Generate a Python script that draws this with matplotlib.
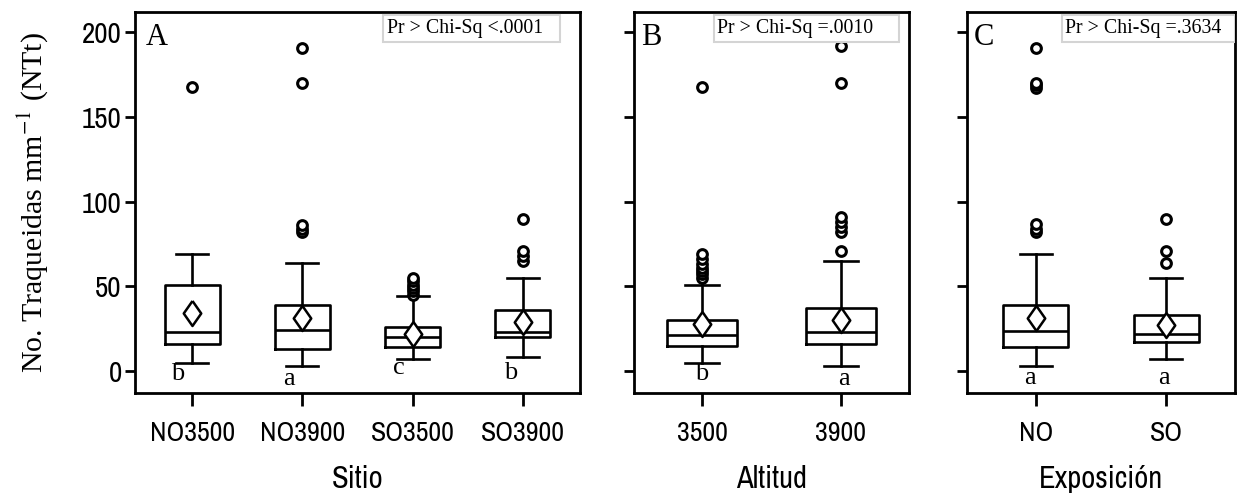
import matplotlib
matplotlib.use("Agg")
import matplotlib.pyplot as plt
from matplotlib.patches import Rectangle

plt.rcParams["mathtext.fontset"] = "stix"

# Panel A: Sitio
sitio = ["NO3500", "NO3900", "SO3500", "SO3900"]
sitio_q1 = [16, 13, 14, 20]
sitio_med = [23, 24, 20, 23]
sitio_q3 = [51, 39, 26, 36]
sitio_lo = [5, 3, 7, 8]
sitio_hi = [69, 64, 44, 55]
sitio_mean = [34, 31, 22, 29]
sitio_out = [[168], [82, 84, 86, 170, 191], [45, 47, 49, 51, 53, 55], [65, 68, 71, 90]]
sitio_grp = ["b", "a", "c", "b"]

# Panel B: Altitud
altitud = ["3500", "3900"]
alt_q1 = [15, 16]
alt_med = [21, 23]
alt_q3 = [30, 37]
alt_lo = [5, 3]
alt_hi = [51, 65]
alt_mean = [27.5, 30]
alt_out = [[55, 57, 59, 61, 63, 66, 69, 168], [71, 82, 85, 88, 91, 170, 192]]
alt_grp = ["b", "a"]

# Panel C: Exposicion
expo = ["NO", "SO"]
exp_q1 = [14, 17]
exp_med = [23.5, 22]
exp_q3 = [39, 33]
exp_lo = [3, 7]
exp_hi = [69, 55]
exp_mean = [31.5, 27]
exp_out = [[82, 84, 87, 167, 169, 170, 191], [64, 71, 90]]
exp_grp = ["a", "a"]

NARROW = ["Archivo Narrow", "DejaVu Sans"]
SERIF = ["Liberation Serif", "DejaVu Serif"]
YTICKS = [0, 50, 100, 150, 200]
DIAMOND = [(0, 1), (0.7, 0), (0, -1), (-0.7, 0), (0, 1)]


def stats(labels, q1, med, q3, lo, hi, mean, out):
    return [dict(label=l, q1=a, med=m, q3=b, whislo=w0, whishi=w1, mean=mu, fliers=f)
            for l, a, m, b, w0, w1, mu, f in zip(labels, q1, med, q3, lo, hi, mean, out)]


def panel(ax, st, grp, grp_dx, grp_y, letter, ptext, pbox, xlabel, showy, xpad, capw):
    n = len(st)
    pos = list(range(1, n + 1))
    lw = 1.9
    ax.bxp(st, positions=pos, widths=0.5, showmeans=True,
           boxprops=dict(color="black", linewidth=lw),
           medianprops=dict(color="black", linewidth=lw),
           whiskerprops=dict(color="black", linewidth=lw),
           capprops=dict(color="black", linewidth=lw),
           capwidths=capw,
           meanprops=dict(marker=DIAMOND, markerfacecolor="white", markeredgecolor="black",
                          markersize=18, markeredgewidth=1.8),
           flierprops=dict(marker="o", markerfacecolor="white", markeredgecolor="black",
                           markersize=7, markeredgewidth=2.2))
    ax.set_xlim(1 - xpad, n + xpad)
    ax.set_ylim(-13, 212)
    ax.set_yticks(YTICKS)
    for s in ax.spines.values():
        s.set_linewidth(2)
    ax.tick_params(axis="y", direction="out", length=7.5, width=2, pad=2)
    ax.tick_params(axis="x", direction="out", length=9.5, width=2, pad=11)
    ax.set_xticks(pos)
    ax.set_xticklabels([s["label"] for s in st], family=NARROW, fontsize=20)
    if showy:
        ax.set_yticklabels([str(v) for v in YTICKS], family=NARROW, fontsize=21)
    else:
        ax.set_yticklabels([])
    ax.set_xlabel(xlabel, family=NARROW, fontsize=22, labelpad=13)
    for p, g, dx, gy in zip(pos, grp, grp_dx, grp_y):
        ax.text(p + dx, gy, g, family=SERIF, fontsize=19, ha="center", va="center")
    ax.text(0.025, 0.972, letter, transform=ax.transAxes, family=SERIF, fontsize=22,
            ha="left", va="top")
    x0, x1, y0, y1 = pbox
    ax.add_patch(Rectangle((x0, y0), x1 - x0, y1 - y0, transform=ax.transAxes,
                           facecolor="white", edgecolor="#d4d4d4", linewidth=1.5, zorder=5))
    ax.text(x0 + 0.01, (y0 + y1) / 2, ptext, transform=ax.transAxes, family=SERIF,
            fontsize=14.3, ha="left", va="center", zorder=6)


fig = plt.figure(figsize=(12.43, 4.98), dpi=100)
W, H = 1243.0, 498.0
top, bot = 12, 393
axA = fig.add_axes([135 / W, 1 - bot / H, 445 / W, (bot - top) / H])
axB = fig.add_axes([634 / W, 1 - bot / H, 275 / W, (bot - top) / H])
axC = fig.add_axes([967 / W, 1 - bot / H, 268 / W, (bot - top) / H])


def pbox_frac(x0, x1, y0, y1, left, width):
    return ((x0 - left) / width, (x1 - left) / width, (bot - y1) / (bot - top), (bot - y0) / (bot - top))


panel(axA, stats(sitio, sitio_q1, sitio_med, sitio_q3, sitio_lo, sitio_hi, sitio_mean, sitio_out),
      sitio_grp, [-0.13, -0.12, -0.12, -0.11], [-1.8, -4.7, 1.5, -1.0], "A",
      "Pr > Chi-Sq <.0001", pbox_frac(383, 560, 15, 42, 135, 445), "Sitio", True, 0.52, 0.29)
panel(axB, stats(altitud, alt_q1, alt_med, alt_q3, alt_lo, alt_hi, alt_mean, alt_out),
      alt_grp, [0.0, 0.02], [-2.0, -4.5], "B",
      "Pr > Chi-Sq =.0010", pbox_frac(714, 899, 15, 42, 634, 275), "Altitud", False, 0.49, 0.24)
panel(axC, stats(expo, exp_q1, exp_med, exp_q3, exp_lo, exp_hi, exp_mean, exp_out),
      exp_grp, [-0.05, -0.02], [-4.0, -4.0], "C",
      "Pr > Chi-Sq =.3634", pbox_frac(1062, 1235, 15, 42, 967, 268), "Exposición", False, 0.53, 0.25)

axA.set_ylabel("No. Traqueidas mm$^{-1}$ (NTt)", family=SERIF, fontsize=21.5)
axA.yaxis.label.set_va("center")
axA.yaxis.set_label_coords((33 - 135) / 445, 0.5)

fig.savefig("out.png", dpi=100)
